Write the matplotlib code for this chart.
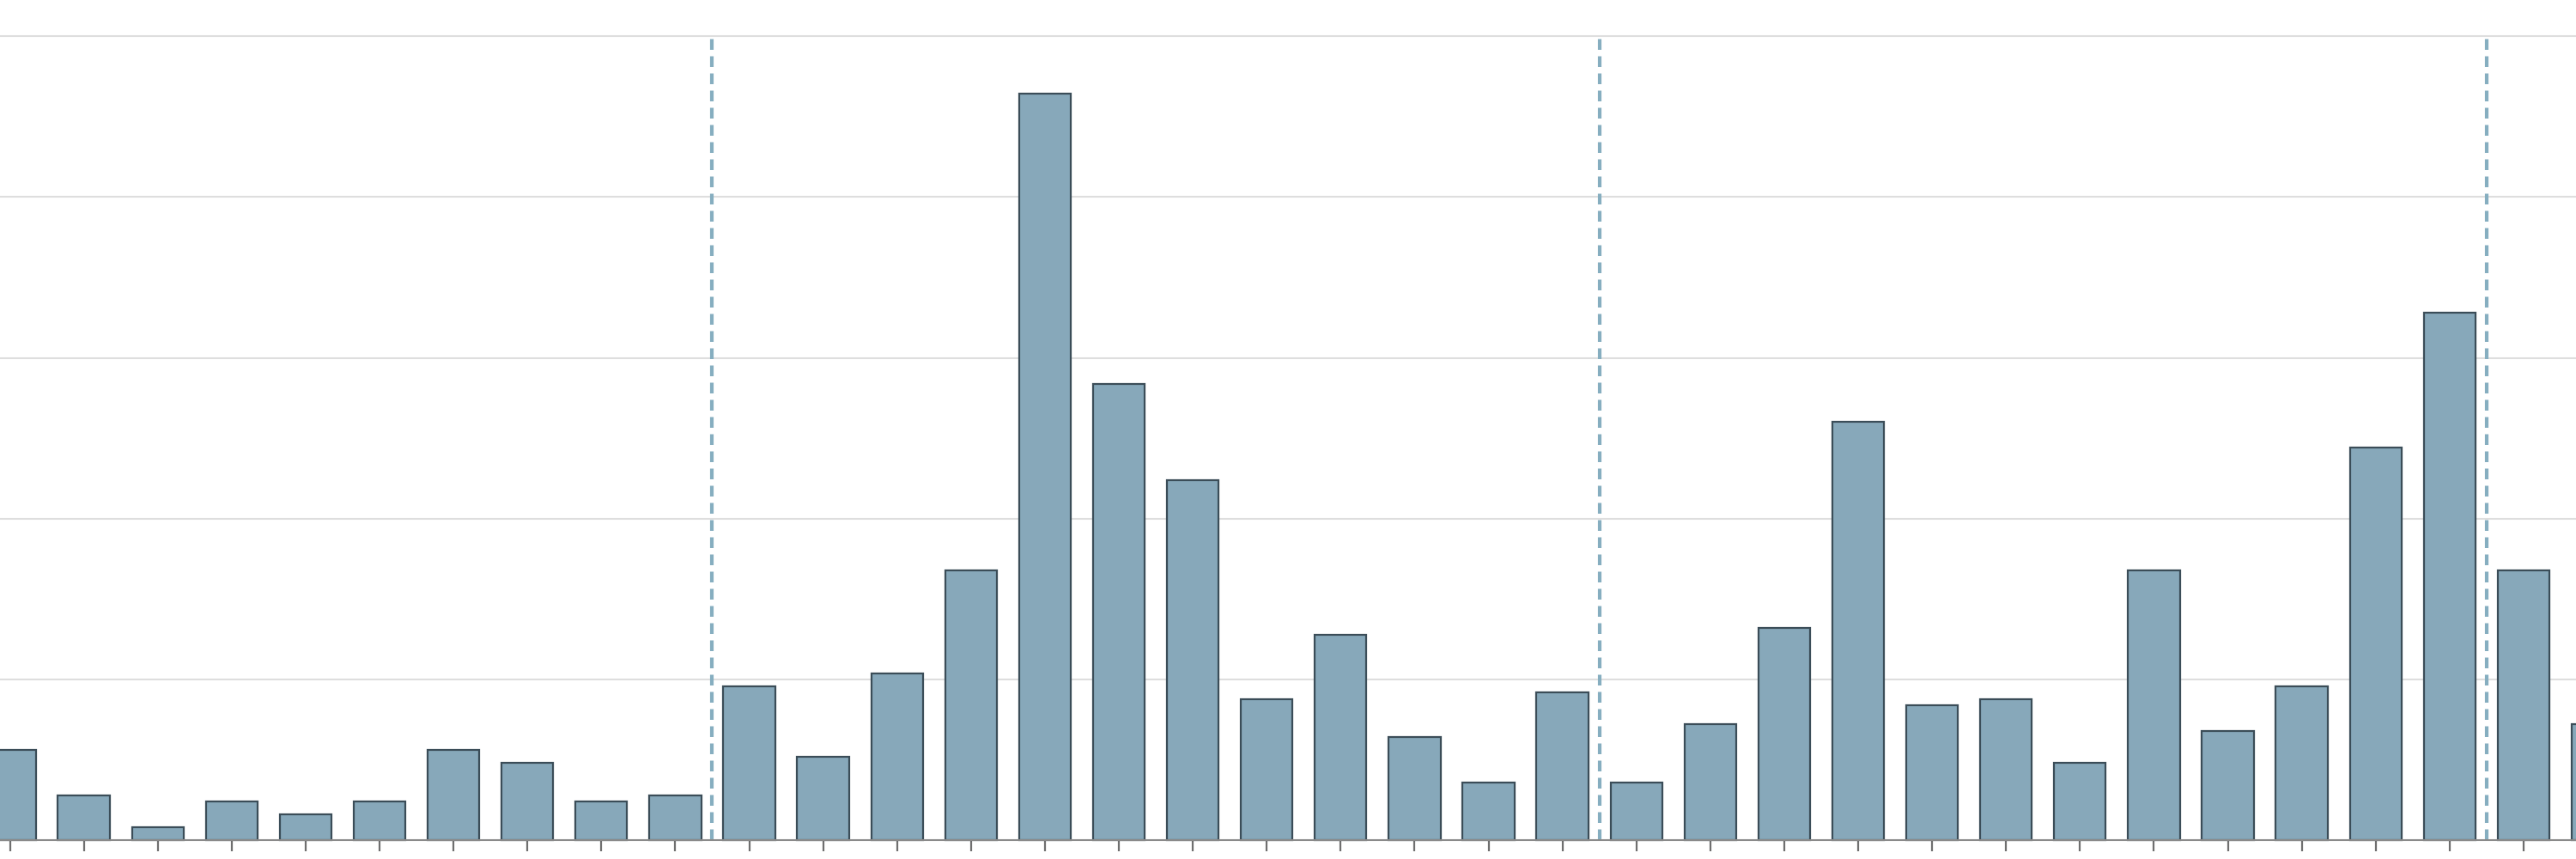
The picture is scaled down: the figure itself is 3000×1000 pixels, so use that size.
import matplotlib
matplotlib.use("Agg")
import matplotlib.pyplot as plt
import numpy as np

# Data (monthly counts, visible window)
months = ["Mar", "Apr", "May", "Jun", "Jul", "Aug", "Sep", "Oct", "Nov", "Dec",
          "Jan", "Feb", "Mar", "Apr", "May", "Jun", "Jul", "Aug", "Sep", "Oct", "Nov", "Dec",
          "Jan", "Feb", "Mar", "Apr", "May", "Jun", "Jul", "Aug", "Sep", "Oct", "Nov", "Dec",
          "Jan", "Feb"]
values = [14, 7, 2, 6, 4, 6, 14, 12, 6, 7,
          24, 13, 26, 42, 116, 71, 56, 22, 32, 16, 9, 23,
          9, 18, 33, 65, 21, 22, 12, 42, 17, 24, 61, 82,
          42, 18]
year_breaks = [9.5, 21.5, 33.5]
grid_values = [25, 50, 75, 100, 125]

fig = plt.figure(figsize=(30, 10), dpi=100)
ax = fig.add_axes([0, 0, 1, 1])

x = np.arange(len(values))
ax.bar(x, values, width=0.7, color="#87a8ba", edgecolor="#3b4d58",
       linewidth=1.6, zorder=3)

for g in grid_values:
    ax.axhline(g, color="#dedede", linewidth=1.5, zorder=1)

ax.vlines(year_breaks, 0, grid_values[-1], colors="#86aec0", linewidth=3.0,
          linestyles=(0, (3.0, 1.8)), zorder=2)

ax.set_xticks(x)
ax.set_xticklabels([])
ax.set_yticks([])
ax.set_xlim(-11.5 / 86.1, (3000 - 11.5) / 86.1)
ax.set_ylim(-21.7 / 7.49, 978.3 / 7.49)

ax.tick_params(axis="x", direction="out", length=9, width=1.6, color="#6f6f6f")
for s in ["top", "right", "left"]:
    ax.spines[s].set_visible(False)
ax.spines["bottom"].set_position(("data", 0))
ax.spines["bottom"].set_color("#8a8a8a")
ax.spines["bottom"].set_linewidth(1.5)
ax.spines["bottom"].set_zorder(4)
ax.set_facecolor("white")
fig.patch.set_facecolor("white")

fig.savefig("out.png", dpi=100)
